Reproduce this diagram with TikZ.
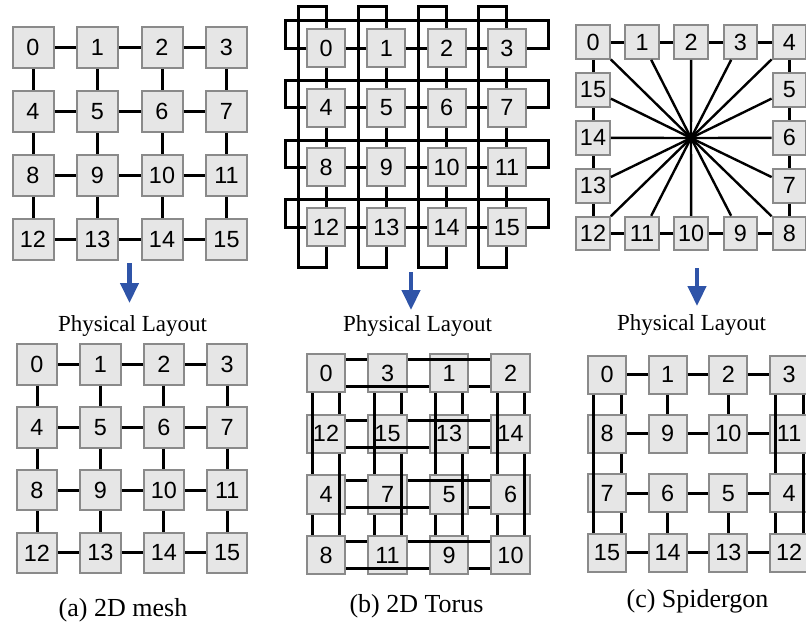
\documentclass[tikz,border=0pt]{standalone}
\usepackage{fontspec}
\setmainfont{Liberation Serif}
\newfontfamily\arialfont{Liberation Sans}
\usetikzlibrary{arrows.meta}
\definecolor{boxfill}{RGB}{230,230,230}
\definecolor{boxline}{RGB}{138,138,138}
\definecolor{arrowblue}{RGB}{47,84,168}

\begin{document}
\begin{tikzpicture}[x = 0.5pt, y = -0.5pt,
        box/.style = {draw = boxline, fill = boxfill, line width = 1pt, inner sep = 0pt,
            minimum size = #1, font = \arialfont\fontsize{11.7}{14}\selectfont},
        wire/.style = {line width = 1.5pt},
        flow/.style = {-{Triangle[width = 9pt, length = 10pt]}, line width = 2.2pt, arrowblue},
        subtitle/.style = {font = \fontsize{11.5}{14}\selectfont},
        subcap/.style = {font = \fontsize{13}{16}\selectfont}]
        \useasboundingbox (0, 0) rectangle (806, 627);

        \begin{scope}[wire]
            \foreach \r in {0, ..., 3} {
                \foreach \c in {0, ..., 3} {
                    \pgfmathtruncatemacro{\n}{4*\r + \c}
                    \path (33 + 64.5*\c, 47.5 + 64*\r) node[box = 20.5pt] (ma\n) {\n};
                    \path (37 + 63.4*\c, 364.5 + 62.8*\r) node[box = 20.2pt] (pa\n) {\n};
                    \path (326 + 60.3*\c, 48 + 59.7*\r) node[box = 19pt] (tb\n) {\n};
                }
            }
            \foreach \r in {0, ..., 3} {
                \foreach \c in {0, 1, 2} {
                    \pgfmathtruncatemacro{\na}{4*\r + \c}
                    \pgfmathtruncatemacro{\nb}{\na + 1}
                    \pgfmathtruncatemacro{\nc}{4*\c + \r}
                    \pgfmathtruncatemacro{\nd}{\nc + 4}
                    \draw (ma\na) -- (ma\nb);
                    \draw (ma\nc) -- (ma\nd);
                    \draw (pa\na) -- (pa\nb);
                    \draw (pa\nc) -- (pa\nd);
                    \draw (tb\na) -- (tb\nb);
                    \draw (tb\nc) -- (tb\nd);
                }
            }
            \foreach \k in {0, ..., 3} {
                \pgfmathtruncatemacro{\na}{4*\k}
                \pgfmathtruncatemacro{\nb}{4*\k + 3}
                \pgfmathtruncatemacro{\nc}{\k + 12}
                \draw (tb\na.west) -| ++(-20.7, -27.3) -- ++(263, 0) |- (tb\nb.east);
                \draw (tb\k.north) |- ++(-28, -21.3) -- ++(0, 260.3) -| (tb\nc.south);
            }
        \end{scope}

        \begin{scope}[wire]
            \foreach \r/\mr in {0/0, 1/3, 2/1, 3/2} {
                \foreach \c/\mc in {0/0, 1/3, 2/1, 3/2} {
                    \pgfmathtruncatemacro{\n}{4*\mr + \mc}
                    \path (326 + 61.5*\c, 373 + 60.7*\r) node[box = 19.2pt] (pb\r\c) {\n};
                }
            }
            \foreach \k in {0, ..., 3} {
                \draw ([yshift = 6.75pt]pb\k0.east) -- ([yshift = 6.75pt]pb\k1.west);
                \draw ([yshift = 6.75pt]pb\k1.east) -- ([yshift = 6.75pt]pb\k3.west);
                \draw ([yshift = -6.75pt]pb\k0.east) -- ([yshift = -6.75pt]pb\k2.west);
                \draw ([yshift = -6.75pt]pb\k2.east) -- ([yshift = -6.75pt]pb\k3.west);
                \draw ([xshift = -6.75pt]pb0\k.south) -- ([xshift = -6.75pt]pb2\k.north);
                \draw ([xshift = -6.75pt]pb2\k.south) -- ([xshift = -6.75pt]pb3\k.north);
                \draw ([xshift = 6.75pt]pb0\k.south) -- ([xshift = 6.75pt]pb1\k.north);
                \draw ([xshift = 6.75pt]pb1\k.south) -- ([xshift = 6.75pt]pb3\k.north);
            }
        \end{scope}

        \begin{scope}[wire]
            \coordinate (hub) at (691, 138);
            \foreach \n/\c/\r in {0/0/0, 1/1/0, 2/2/0, 3/3/0, 4/4/0, 5/4/1, 6/4/2, 7/4/3,
                    8/4/4, 9/3/4, 10/2/4, 11/1/4, 12/0/4, 13/0/3, 14/0/2, 15/0/1}
                \path (593 + 49.1*\c, 42 + 47.9*\r) node[box = 16.8pt] (sc\n) {\n};
            \foreach \n in {0, ..., 15} {
                \pgfmathtruncatemacro{\na}{mod(\n + 1, 16)}
                \draw (sc\n) -- (sc\na);
                \draw[line width = 1.2pt] (sc\n) -- (hub);
            }

            \foreach \n/\c/\r in {0/0/0, 1/1/0, 2/2/0, 3/3/0, 8/0/1, 9/1/1, 10/2/1, 11/3/1,
                    7/0/2, 6/1/2, 5/2/2, 4/3/2, 15/0/3, 14/1/3, 13/2/3, 12/3/3}
                \path (607 + 60.7*\c, 374.5 + 59.4*\r) node[box = 19pt] (pc\n) {\n};
            \foreach \na/\nb in {0/1, 1/2, 2/3, 8/9, 9/10, 10/11, 7/6, 6/5, 5/4,
                    15/14, 14/13, 13/12, 1/9, 2/10, 6/14, 5/13}
                \draw (pc\na) -- (pc\nb);
            \foreach \na/\nb in {0/8, 8/7, 7/15, 3/11, 11/12}
                \draw ([xshift = 7pt]pc\na.south) -- ([xshift = 7pt]pc\nb.north);
            \foreach \na/\nb in {0/15, 3/4, 4/12}
                \draw ([xshift = -6.75pt]pc\na.south) -- ([xshift = -6.75pt]pc\nb.north);
        \end{scope}

        \coordinate (fa1) at (129.5, 263);
        \coordinate (fa2) at (129.5, 303);
        \coordinate (fb1) at (411, 272);
        \coordinate (fb2) at (411, 310);
        \coordinate (fc1) at (697, 268);
        \coordinate (fc2) at (697, 306);
        \draw[flow] (fa1) -- (fa2);
        \draw[flow] (fb1) -- (fb2);
        \draw[flow] (fc1) -- (fc2);

        \path (132.5, 326) node[subtitle] (pla) {Physical Layout};
        \path (417.5, 326) node[subtitle] (plb) {Physical Layout};
        \path (691.5, 325) node[subtitle] (plc) {Physical Layout};

        \path (123, 610) node[subcap] (capa) {(a) 2D mesh};
        \path (416.5, 606) node[subcap] (capb) {(b) 2D Torus};
        \path (697.5, 601) node[subcap] (capc) {(c) Spidergon};
    \end{tikzpicture}
\end{document}
